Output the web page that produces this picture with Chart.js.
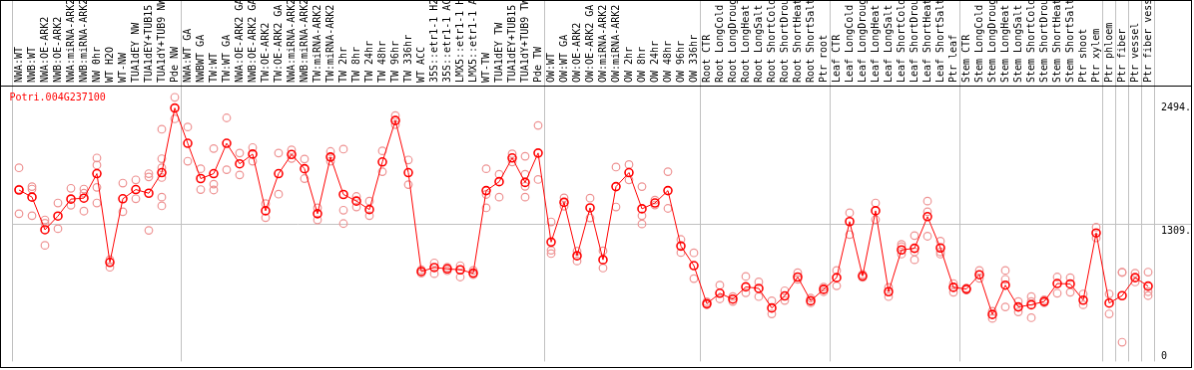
<!DOCTYPE html>
<html>
<head>
<meta charset="utf-8">
<script src="https://cdn.jsdelivr.net/npm/chart.js@4"></script>
<style>
  body { margin: 0; background: #fff; }
  #chart { display: block; border: 1px solid #000; }
</style>
</head>
<body>
<canvas id="chart" width="1192" height="368"></canvas>
<script>
var GENE_ID = 'Potri.004G237100';

var labels = [
  'NWA:WT', 'NWB:WT', 'NWA:OE-ARK2', 'NWB:OE-ARK2', 'NWA:miRNA-ARK2', 'NWB:miRNA-ARK2',
  'NW 0hr', 'WT H2O', 'WT-NW', 'TUA1dEY NW', 'TUA1dEY+TUB15', 'TUA1dY+TUB9 NW', 'Pde NW',
  'NWA:WT GA', 'NWBWT GA', 'TW:WT', 'TW:WT GA', 'NWA:OE-ARK2 GA', 'NWB:OE-ARK2 GA',
  'TW:OE-ARK2', 'TW:OE-ARK2 GA', 'NWA:miRNA-ARK2', 'NWB:miRNA-ARK2', 'TW:miRNA-ARK2',
  'TW:miRNA-ARK2', 'TW 2hr', 'TW 8hr', 'TW 24hr', 'TW 48hr', 'TW 96hr', 'TW 336hr',
  'WT ACC', '35S::etr1-1 H2O', '35S::etr1-1 ACC', 'LMX5::etr1-1 H2O', 'LMX5::etr1-1 ACC',
  'WT-TW', 'TUA1dEY TW', 'TUA1dEY+TUB15', 'TUA1dY+TUB9 TW', 'Pde TW',
  'OW:WT', 'OW:WT GA', 'OW:OE-ARK2', 'OW:OE-ARK2 GA', 'OW:miRNA-ARK2', 'OW:miRNA-ARK2',
  'OW 2hr', 'OW 8hr', 'OW 24hr', 'OW 48hr', 'OW 96hr', 'OW 336hr',
  'Root CTR', 'Root LongCold', 'Root LongDrought', 'Root LongHeat', 'Root LongSalt',
  'Root ShortCold', 'Root ShortDrought', 'Root ShortHeat', 'Root ShortSalt', 'Ptr root',
  'Leaf CTR', 'Leaf LongCold', 'Leaf LongDrought', 'Leaf LongHeat', 'Leaf LongSalt',
  'Leaf ShortCold', 'Leaf ShortDrought', 'Leaf ShortHeat', 'Leaf ShortSalt', 'Ptr leaf',
  'Stem CTR', 'Stem LongCold', 'Stem LongDrought', 'Stem LongHeat', 'Stem LongSalt',
  'Stem ShortCold', 'Stem ShortDrought', 'Stem ShortHeat', 'Stem ShortSalt', 'Ptr shoot',
  'Ptr xylem', 'Ptr phloem', 'Ptr fiber', 'Ptr vessel', 'Ptr fiber vessel'
];

// mean expression per sample
var means = [
  1639, 1571, 1259, 1390, 1552, 1561, 1795, 947, 1555, 1643,
  1608, 1805, 2422, 2085, 1748, 1795, 2085, 1889, 1982, 1440,
  1795, 1978, 1842, 1412, 1954, 1596, 1533, 1452, 1907, 2303,
  1805, 860, 898, 885, 876, 844, 1633, 1718, 1945, 1711,
  1992, 1141, 1521, 1010, 1468, 972, 1671, 1805, 1459, 1515,
  1633, 1103, 916, 552, 652, 596, 713, 698, 511, 626,
  807, 580, 689, 801, 1337, 816, 1440, 667, 1066, 1082,
  1384, 1085, 708, 692, 829, 449, 729, 521, 542, 573,
  745, 741, 586, 1228, 558, 629, 801, 720
];

// single replicates per sample
var replicates = [
  [1851, 1646, 1412], [1671, 1648, 1393], [1353, 1321, 1110], [1515, 1269], [1655, 1493],
  [1648, 1608, 1437], [1945, 1877, 1664, 1515], [972, 900], [1705, 1431], [1736, 1555],
  [1795, 1764, 1253], [2219, 1938, 1851, 1758, 1571, 1487], [2525, 2319], [2241, 1914], [1842, 1643],
  [2035, 1695, 1639], [2328, 1833], [1992, 1783], [2045, 1914], [1508, 1374],
  [1992, 1599], [2022, 1940], [1935, 1748], [1468, 1353], [2007, 1914],
  [2029, 1446, 1318], [1577, 1477], [1533, 1393], [2013, 1814], [2350, 2263],
  [1926, 1690], [876, 844], [942, 839], [900, 867], [916, 807],
  [870, 829], [1842, 1596, 1468], [1789, 1571], [1985, 1907], [1961, 1789, 1674, 1571],
  [2256, 1739], [1334, 1063, 1031], [1564, 1484], [1054, 960], [1561, 1372],
  [1057, 893], [1858, 1477], [1882, 1736], [1671, 1393, 1314], [1543, 1496],
  [1814, 1463], [1166, 1041], [1038, 792], [570, 542], [729, 598],
  [620, 573], [813, 657], [760, 620], [580, 455], [676, 583],
  [848, 785], [605, 561], [711, 667], [870, 723], [1421, 1213],
  [832, 804], [1515, 1356], [708, 620], [1119, 1097, 1026], [1203, 1047, 972],
  [1533, 1431, 1197], [1150, 1047, 1026], [745, 661], [701, 683], [870, 795],
  [480, 411], [870, 785, 521], [573, 474], [620, 573, 418], [589, 561],
  [807, 652], [801, 661], [645, 542], [1284, 1181], [645, 455],
  [854, 850, 184], [844, 760], [854, 667, 629]
];

var yTicks = [0, 1309, 2494];
var yMax = 2637;
// sample indices where a new group starts (vertical separators)
var groupStarts = [0, 13, 41, 53, 63, 73, 84, 85, 86, 87, 88];

var FONT = { family: '"DejaVu Sans Mono", monospace', size: 10 };
var GRID = '#c0c0c0';

var repPoints = [];
replicates.forEach(function (vals, i) {
  vals.forEach(function (v) { repPoints.push({ x: i, y: v }); });
});

var framePlugin = {
  id: 'frame',
  afterDraw: function (chart) {
    var ctx = chart.ctx, area = chart.chartArea, y = chart.scales.y;
    ctx.save();
    ctx.strokeStyle = '#000';
    ctx.lineWidth = 1;
    ctx.beginPath();
    ctx.moveTo(0, Math.round(area.top) + 0.5);
    ctx.lineTo(chart.width, Math.round(area.top) + 0.5);
    ctx.stroke();

    ctx.font = '10px "DejaVu Sans Mono", monospace';
    ctx.textBaseline = 'alphabetic';
    ctx.textAlign = 'left';
    ctx.fillStyle = '#000';
    y.ticks.forEach(function (t) {
      var py = y.getPixelForValue(t.value);
      var text = t.value === 0 ? '0' : t.value + '.';
      ctx.fillText(text, area.right + 6.5, t.value === 0 ? py - 2 : py + 9.5);
    });

    ctx.fillStyle = '#ff0000';
    ctx.fillText(GENE_ID, 8.5, area.top + 15);
    ctx.restore();
  }
};

new Chart(document.getElementById('chart'), {
  type: 'line',
  data: {
    labels: labels,
    datasets: [
      {
        label: 'mean',
        data: means,
        borderColor: '#ff0000',
        borderWidth: 1,
        pointRadius: 4,
        pointBorderWidth: 1.6,
        pointBorderColor: '#ff0000',
        pointBackgroundColor: 'rgba(0,0,0,0)',
        tension: 0
      },
      {
        label: 'replicates',
        xAxisID: 'xr',
        data: repPoints,
        showLine: false,
        pointRadius: 3.8,
        pointBorderWidth: 1.2,
        pointBorderColor: '#ee9494',
        pointBackgroundColor: 'rgba(0,0,0,0)'
      }
    ]
  },
  options: {
    responsive: false,
    animation: false,
    devicePixelRatio: 1,
    layout: { padding: { left: 11.5, right: 0, top: 0, bottom: 1 } },
    plugins: { legend: { display: false }, tooltip: { enabled: false } },
    scales: {
      x: {
        type: 'category',
        position: 'top',
        offset: true,
        border: { display: false },
        grid: {
          offset: true,
          tickLength: 85,
          lineWidth: 1,
          color: function (c) {
            var i = c.index === undefined ? labels.length : c.index;
            return groupStarts.indexOf(i) >= 0 ? GRID : 'rgba(0,0,0,0)';
          }
        },
        ticks: {
          autoSkip: false,
          minRotation: 90,
          maxRotation: 90,
          padding: -82,
          labelOffset: 12,
          color: '#000',
          font: FONT
        },
        afterFit: function (s) { s.height = 85; }
      },
      xr: {
        type: 'linear',
        display: false,
        min: -0.5,
        max: labels.length - 0.5
      },
      y: {
        type: 'linear',
        position: 'right',
        min: 0,
        max: yMax,
        border: { display: false },
        grid: {
          tickLength: 37,
          color: function (c) {
            return c.tick && c.tick.value === 1309 ? GRID : 'rgba(0,0,0,0)';
          }
        },
        ticks: { display: false },
        afterBuildTicks: function (s) {
          s.ticks = yTicks.map(function (v) { return { value: v }; });
        },
        afterFit: function (s) { s.width = 36.5; }
      }
    }
  },
  plugins: [framePlugin]
});
</script>
</body>
</html>
